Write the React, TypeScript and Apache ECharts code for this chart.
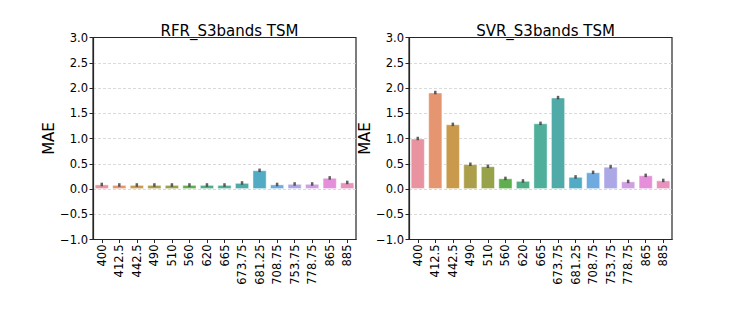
import React, { useEffect, useRef } from "react";
import * as echarts from "echarts";

const categories = ["400", "412.5", "442.5", "490", "510", "560", "620", "665", "673.75", "681.25", "708.75", "753.75", "778.75", "865", "885"];
const rfrValues = [0.09, 0.08, 0.08, 0.08, 0.08, 0.08, 0.08, 0.08, 0.12, 0.37, 0.09, 0.10, 0.10, 0.22, 0.13];
const svrValues = [1.0, 1.91, 1.28, 0.49, 0.45, 0.21, 0.16, 1.3, 1.81, 0.24, 0.33, 0.44, 0.15, 0.27, 0.17];
const barColors = ["#e8939f", "#e5956f", "#c99a4b", "#ab9f4b", "#97a24b", "#5faf4f", "#50ad85", "#50af9b", "#50aaa8", "#52abc4", "#6fabe0", "#aca8e6", "#d09ee3", "#e58ed9", "#e893bd"];
const yTicks = { min: -1, max: 3, interval: 0.5 };
const titles = ["RFR_S3bands TSM", "SVR_S3bands TSM"];
const yName = "MAE";

const FONT = "DejaVu Sans";

export default function App() {
  const ref = useRef<HTMLDivElement>(null);
  useEffect(() => {
    if (!ref.current) return;
    const chart = echarts.init(ref.current, null, { renderer: "svg" });
    const grids = [
      { left: 93, top: 37.5, width: 263, height: 202 },
      { left: 409, top: 37.5, width: 263, height: 202 },
    ];
    const datasets = [rfrValues, svrValues];
    const fmt = (v: number) => (v < 0 ? "\u2212" + Math.abs(v).toFixed(1) : v.toFixed(1));
    const nLines = Math.round((yTicks.max - yTicks.min) / yTicks.interval) + 1;
    const splitColors = Array.from({ length: nLines }, (_, k) => (k === 0 || k === nLines - 1 ? "rgba(0,0,0,0)" : "#d0d0d0"));
    chart.setOption({
      animation: false,
      title: titles.map((t, i) => ({
        text: t,
        left: grids[i].left + grids[i].width / 2,
        textAlign: "center",
        top: 18,
        textStyle: { fontFamily: FONT, fontSize: 15, fontWeight: "normal", color: "#000" },
      })),
      grid: grids.map((g) => ({ ...g, show: true, borderColor: "#262626", borderWidth: 1.2, backgroundColor: "transparent" })),
      xAxis: grids.map((_, i) => ({
        type: "category",
        gridIndex: i,
        data: categories,
        position: "bottom",
        axisLine: { show: true, onZero: false, lineStyle: { color: "#262626", width: 1.2 } },
        axisTick: { show: true, alignWithLabel: true, length: 3.5, lineStyle: { color: "#262626" } },
        axisLabel: { rotate: 90, interval: 0, margin: 5, fontFamily: FONT, fontSize: 11.5, color: "#000" },
        splitLine: { show: false },
      })),
      yAxis: grids.map((_, i) => ({
        type: "value",
        gridIndex: i,
        min: yTicks.min,
        max: yTicks.max,
        interval: yTicks.interval,
        name: yName,
        nameLocation: "middle",
        nameGap: 36,
        nameTextStyle: { fontFamily: FONT, fontSize: 15, color: "#000" },
        axisLine: { show: true, lineStyle: { color: "#262626", width: 1.2 } },
        axisTick: { show: true, length: 3.5, lineStyle: { color: "#262626" } },
        axisLabel: { margin: 5, fontFamily: FONT, fontSize: 11.5, color: "#000", formatter: fmt },
        splitLine: { show: true, lineStyle: { color: splitColors, type: [3, 2], width: 0.8 } },
      })),
      series: datasets.flatMap((vals, i) => [
        {
          type: "bar",
          xAxisIndex: i,
          yAxisIndex: i,
          barWidth: "80%",
          data: vals.map((v, k) => ({ value: v, itemStyle: { color: barColors[k] } })),
          itemStyle: { borderColor: "rgba(255,255,255,0.6)", borderWidth: 0.8 },
        },
        {
          type: "scatter",
          xAxisIndex: i,
          yAxisIndex: i,
          symbol: "rect",
          symbolSize: [2.5, 3.5],
          itemStyle: { color: "#3a3a3a" },
          data: vals,
          z: 5,
        },
      ]),
    });
    return () => chart.dispose();
  }, []);
  return <div ref={ref} style={{ position: "fixed", left: 0, top: 0, width: 747, height: 320, background: "#fff" }} />;
}
